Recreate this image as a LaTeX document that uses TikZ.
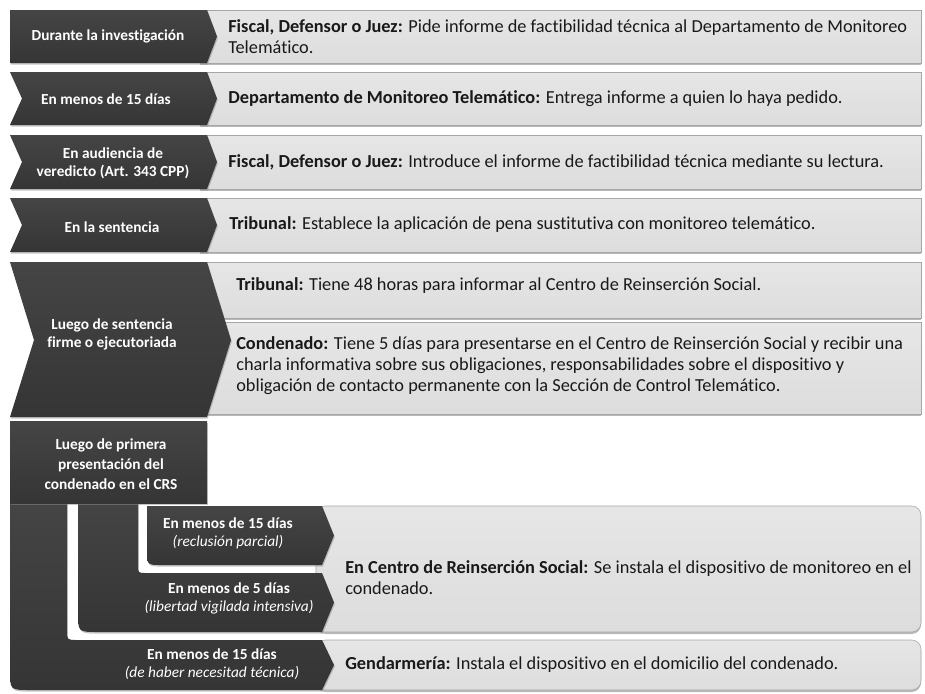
\documentclass[tikz,border=0pt]{standalone}
\usepackage{fontspec}
\setmainfont{Carlito}[Ligatures=NoCommon]
\usetikzlibrary{shadows}
\definecolor{oscuro}{HTML}{353535}
\definecolor{oscurotop}{HTML}{454545}
\definecolor{claro}{HTML}{DDDDDD}
\definecolor{clarotop}{HTML}{E6E6E6}

\begin{document}
\begin{tikzpicture}[x=0.75pt,y=-0.75pt]
			
			\tikzstyle{etapa} = [top color=oscurotop, bottom color=oscuro, drop shadow={shadow xshift=0.6pt, shadow yshift=-1.2pt, fill=black!45}]
			\tikzstyle{panel} = [top color=clarotop, bottom color=claro, draw=gray!70, line width=0.4pt, drop shadow={shadow xshift=0pt, shadow yshift=-1.5pt, fill=black!55}]
			\tikzstyle{plazo} = [text=white, font=\fontsize{11.5}{13.5}\selectfont\bfseries, align=center, inner sep=0pt]
			\tikzstyle{accion} = [text=black!90, font=\fontsize{13.75}{15.75}\selectfont, align=left, anchor=west, inner sep=0pt]
			
			\useasboundingbox (0,0) rectangle (925,693);
			
			% paneles claros
			\path[panel] (200,10) rectangle (921,63);
			\path[panel] (200,72) rectangle (921,125);
			\path[panel] (200,135) rectangle (921,189);
			\path[panel] (200,198) rectangle (921,252);
			\path[panel] (200,262) rectangle (921,318);
			\path[panel] (200,322) rectangle (921,414);
			\path[panel, rounded corners=7pt] (316,506) rectangle (921,632);
			\path[panel, rounded corners=7pt] (316,640) rectangle (921,690);
			
			% etapas oscuras
			\path[etapa] (10,10) -- (207,10) -- (217,36.5) -- (207,63) -- (10,63) -- cycle;
			\path[etapa] (10,72) -- (207,72) -- (217,98.5) -- (207,125) -- (10,125) -- (22,98.5) -- cycle;
			\path[etapa] (10,135) -- (207,135) -- (217,162) -- (207,189) -- (10,189) -- (22,162) -- cycle;
			\path[etapa] (10,198) -- (207,198) -- (217,225) -- (207,252) -- (10,252) -- (22,225) -- cycle;
			\path[etapa] (10,262) -- (207,262) -- (231,340) -- (207,417) -- (10,417) -- (34,340) -- cycle;
			
			\path[etapa] (10,495) -- (10,670) .. controls (10,690) .. (30,690) -- (322,690) -- (334,665) -- (322,640) -- (77,640) .. controls (67,640) .. (67,630) -- (67,495) -- cycle;
			\path[etapa] (78,495) -- (78,612) .. controls (78,632) .. (98,632) -- (322,632) -- (334,602.5) -- (322,573) -- (146,573) .. controls (138,573) .. (138,565) -- (138,495) -- cycle;
			\path[etapa] (147,506) -- (147,550) .. controls (147,565) .. (162,565) -- (322,565) -- (334,535.5) -- (322,506) -- cycle;
			\path[etapa] (10,421) rectangle (207,503);
			
			% textos de plazos
			\node (investigacion) [plazo] at (108,36.5) {Durante la investigación};
			\node (menos15) [plazo] at (106,99) {En menos de 15 días};
			\node (audiencia) [plazo] at (113,163) {En audiencia de\\veredicto (Art. 343 CPP)};
			\node (sentencia) [plazo] at (112,227) {En la sentencia};
			\node (firme) [plazo] at (112,334) {Luego de sentencia\\firme o ejecutoriada};
			\node (crs) [plazo, font=\fontsize{11.5}{15}\selectfont\bfseries] at (111,464) {Luego de primera\\presentación del\\condenado en el CRS};
			\node (reclusion) [plazo] at (228,533) {En menos de 15 días\\{\mdseries\itshape (reclusión parcial)}};
			\node (libertad) [plazo] at (229,598) {En menos de 5 días\\{\mdseries\itshape (libertad vigilada intensiva)}};
			\node (necesidad) [plazo] at (212,664) {En menos de 15 días\\{\mdseries\itshape (de haber necesitad técnica)}};
			
			% textos de acciones
			\node (pide) [accion] at (228,37) {\textbf{Fiscal, Defensor o Juez:} Pide informe de factibilidad técnica al Departamento de Monitoreo\\Telemático.};
			\node (entrega) [accion] at (228,99) {\textbf{Departamento de Monitoreo Telemático:} Entrega informe a quien lo haya pedido.};
			\node (introduce) [accion] at (228,162) {\textbf{Fiscal, Defensor o Juez:} Introduce el informe de factibilidad técnica mediante su lectura.};
			\node (establece) [accion] at (229,225) {\textbf{Tribunal:} Establece la aplicación de pena sustitutiva con monitoreo telemático.};
			\node (informa) [accion] at (236,286) {\textbf{Tribunal:} Tiene 48 horas para informar al Centro de Reinserción Social.};
			\node (presenta) [accion] at (236,366) {\textbf{Condenado:} Tiene 5 días para presentarse en el Centro de Reinserción Social y recibir una\\charla informativa sobre sus obligaciones, responsabilidades sobre el dispositivo y\\obligación de contacto permanente con la Sección de Control Telemático.};
			\node (instala) [accion] at (345,578) {\textbf{En Centro de Reinserción Social:} Se instala el dispositivo de monitoreo en el\\condenado.};
			\node (domicilio) [accion] at (345,665) {\textbf{Gendarmería:} Instala el dispositivo en el domicilio del condenado.};
			
		\end{tikzpicture}
\end{document}
